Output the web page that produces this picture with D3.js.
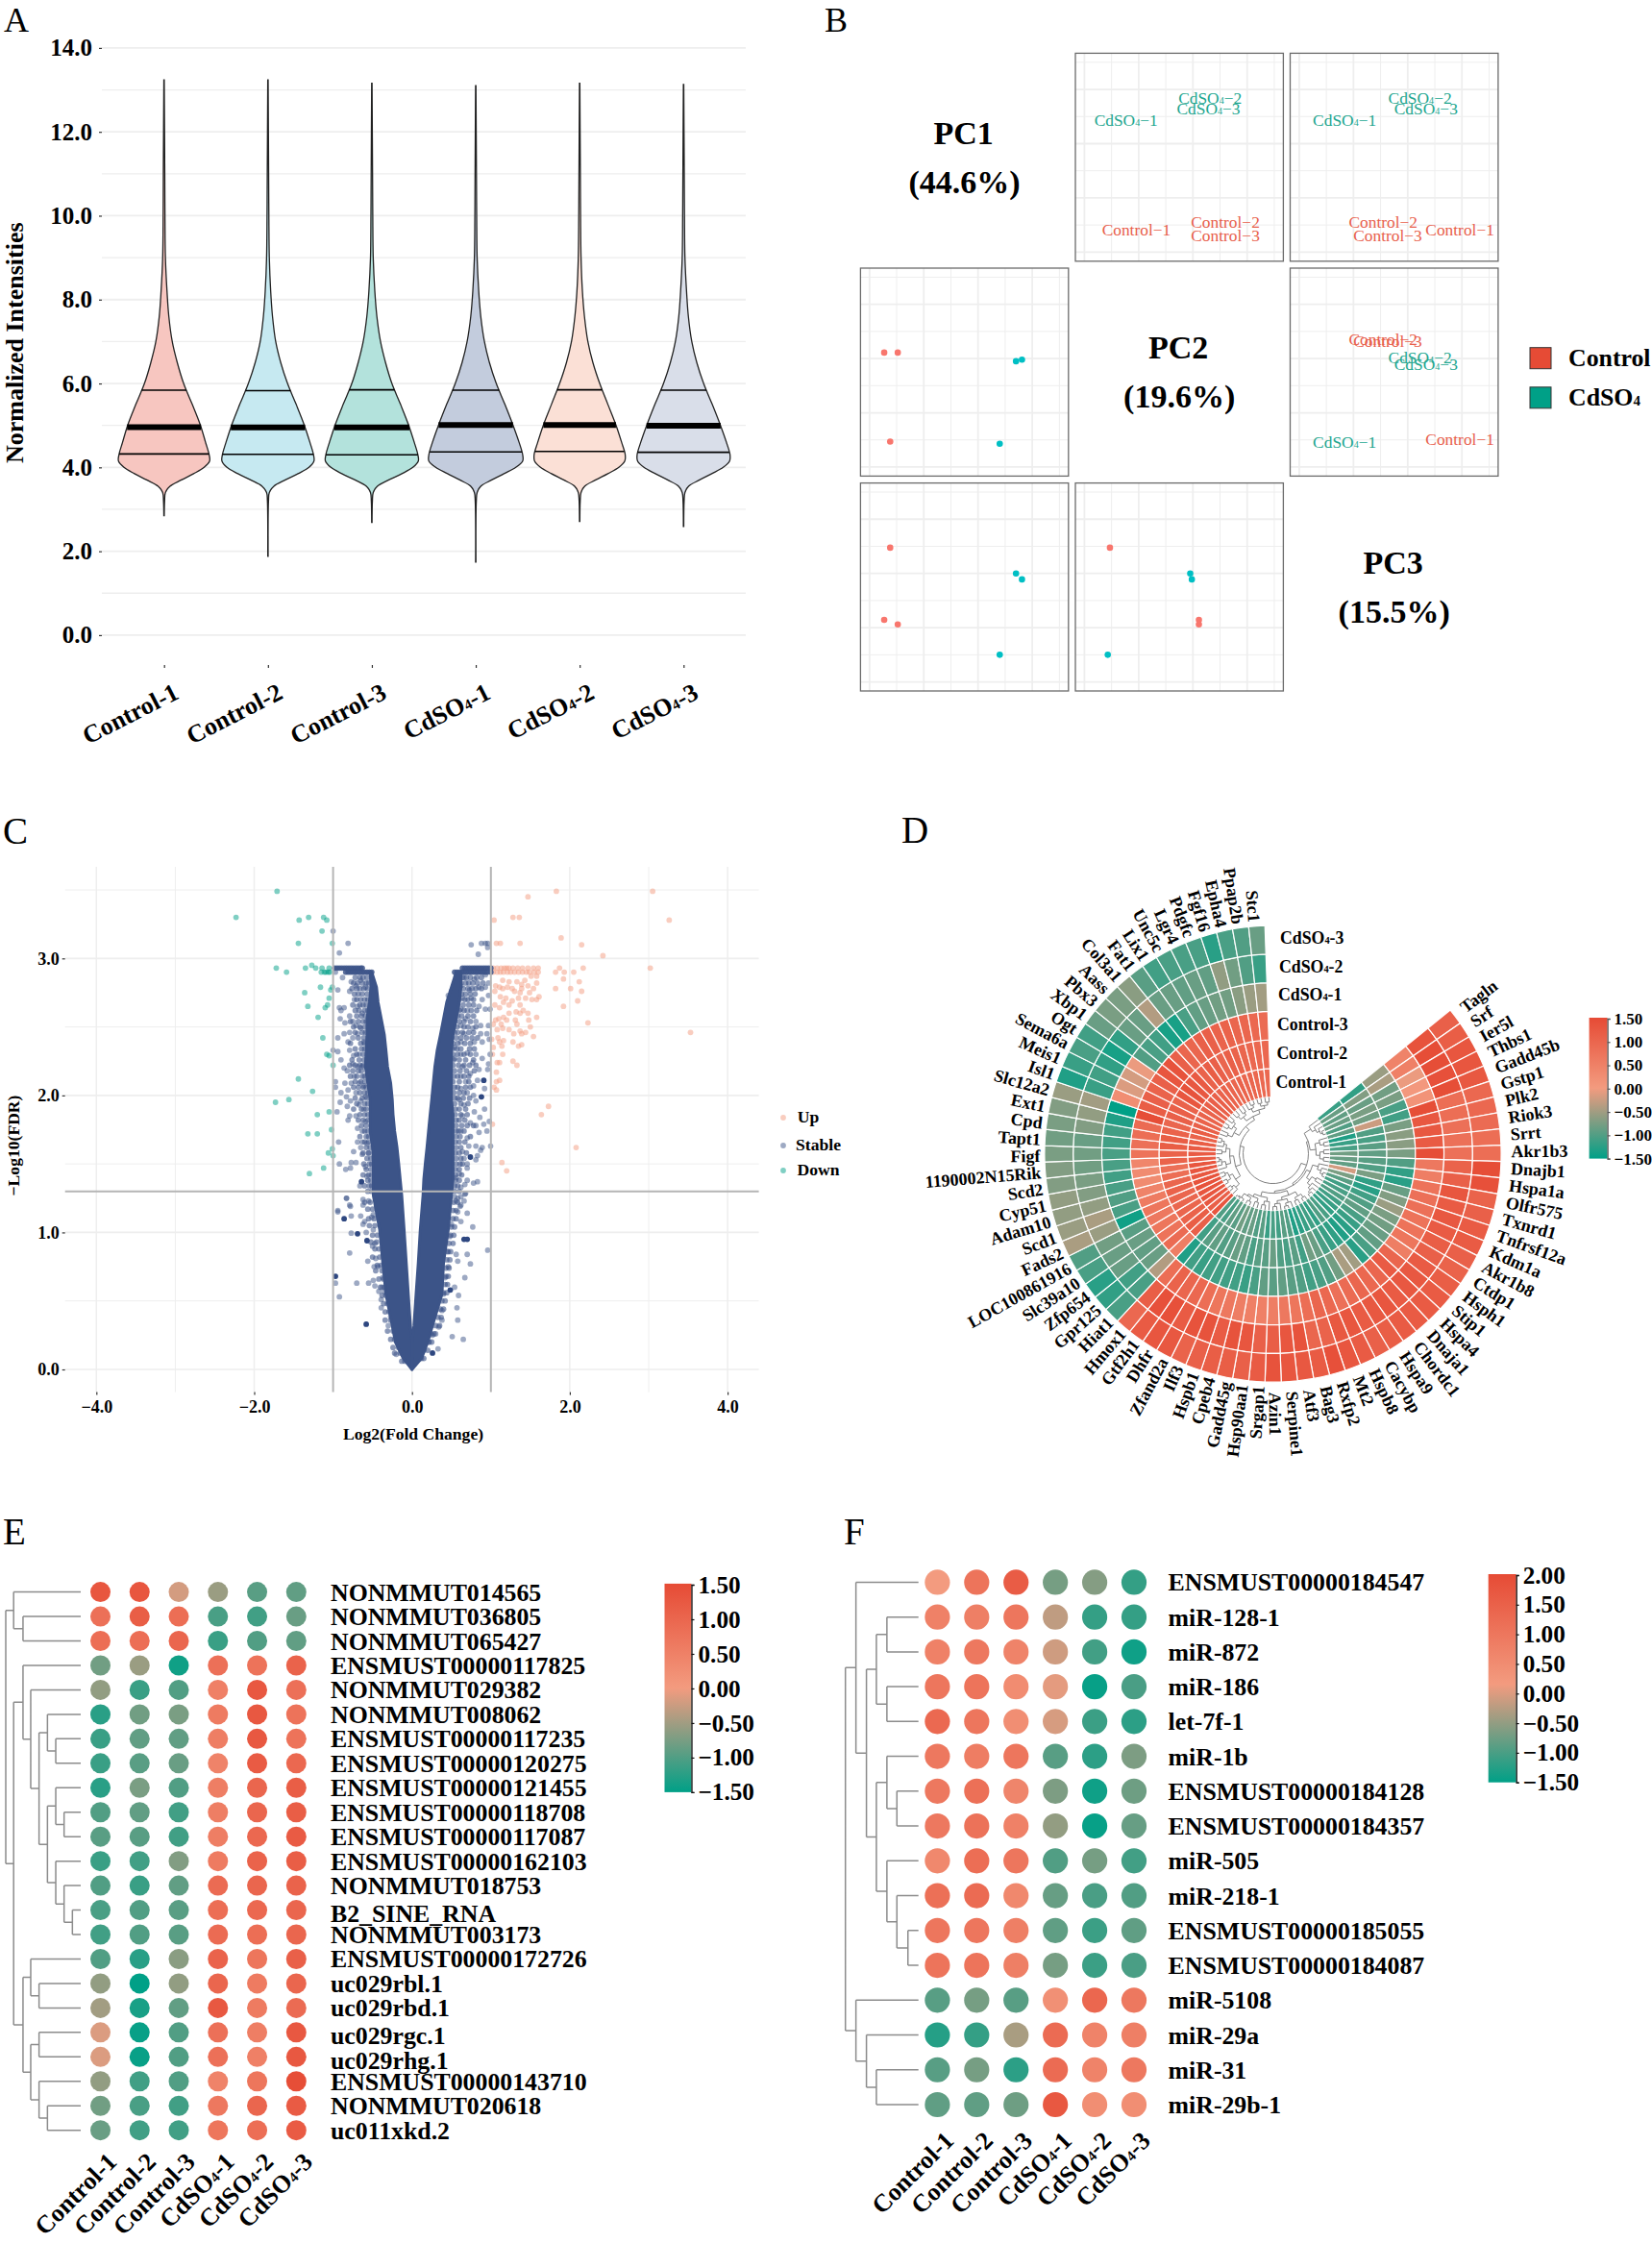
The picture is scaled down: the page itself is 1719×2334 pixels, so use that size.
<!DOCTYPE html>
<html><head><meta charset="utf-8">
<script src="https://d3js.org/d3.v7.min.js"></script>
<style>
html,body{margin:0;padding:0;background:#fff}
svg{display:block}
text{font-family:'Liberation Serif','Times New Roman',serif}
</style></head><body>
<svg id="fig" width="1719" height="2334" viewBox="0 0 1719 2334"></svg>
<script>
// ---------- shared ----------
const sampleNames=["Control-1","Control-2","Control-3","CdSO4-1","CdSO4-2","CdSO4-3"];

// ---------- panel A: violins ----------
const violinLevels=[3.2,3.4,3.55,3.7,3.85,4.0,4.15,4.3,4.6,5,5.5,6,6.5,7,7.6,8.2,9,10,11];
const violinDensity=[
 [.012,.03,.13,.38,.65,.88,1.00,.99,.91,.80,.62,.43,.29,.18,.105,.065,.03,.02,.016],
 [.012,.03,.13,.38,.66,.90,1.01,1.00,.92,.80,.62,.43,.28,.17,.10,.06,.03,.02,.015],
 [.012,.03,.12,.37,.66,.90,1.02,1.01,.93,.81,.63,.44,.30,.19,.11,.065,.03,.02,.015],
 [.012,.03,.11,.35,.62,.88,1.03,1.03,.95,.82,.64,.45,.30,.19,.11,.065,.03,.02,.015],
 [.012,.03,.11,.35,.62,.86,.99,1.00,.92,.80,.62,.44,.29,.18,.105,.06,.03,.02,.015],
 [.012,.03,.11,.35,.62,.87,1.01,1.02,.94,.81,.63,.44,.29,.18,.105,.065,.03,.02,.015]];
const violinMin=[2.85,1.88,2.69,1.74,2.71,2.59];
const violinMax=[13.24,13.24,13.16,13.10,13.16,13.13];
const violinQ1=[4.32,4.31,4.30,4.37,4.38,4.36];
const violinMedian=[4.96,4.95,4.95,5.01,5.01,4.99];
const violinQ3=[5.84,5.83,5.85,5.84,5.85,5.84];
const violinColors=["#F7C6C0","#C6E9F1","#B3E2DC","#C3CCDD","#FBE0D6","#D9DEE9"];

// ---------- panel B: PCA ----------
const pcaSamples=["Control-1","Control-2","Control-3","CdSO4-1","CdSO4-2","CdSO4-3"];
const pc1Scores=[-1.62,-1.48,-1.73,0.40,0.81,0.70];
const pc2Scores=[-1.53,0.11,0.11,-1.57,-0.02,-0.05];
const pc3Scores=[0.475,-0.94,-0.856,-1.50,-0.11,0.0];
const pcNames=["PC1","PC2","PC3"];
const pcVariance=["(44.6%)","(19.6%)","(15.5%)"];

// ---------- panel C: volcano ----------
const volcanoLevels=[2.90,2.79,2.68,2.56,2.44,2.33,2.21,2.09,1.97,1.86,1.74,1.62,1.51,1.39,1.27,1.02,0.78,0.55,0.32,0.20,0.08,0.00];
const bandLeftInner=[-.51,-.45,-.43,-.39,-.35,-.33,-.31,-.27,-.25,-.24,-.22,-.19,-.17,-.15,-.13,-.10,-.073,-.047,-.02,0,0,0];
const bandLeftOuter=[-.53,-.52,-.54,-.57,-.57,-.58,-.59,-.56,-.53,-.53,-.53,-.50,-.49,-.49,-.49,-.41,-.37,-.33,-.25,-.21,-.11,0];
const bandRightInner=[.56,.50,.44,.40,.36,.32,.29,.27,.25,.23,.21,.19,.17,.15,.14,.105,.08,.052,.025,0,0,0];
const bandRightOuter=[.62,.62,.60,.56,.52,.50,.50,.50,.50,.52,.52,.52,.52,.52,.50,.46,.40,.38,.26,.20,.12,0];
const stableTopLeftA=[-.98,-.95,-.92,-.89,-.86,-.83,-.80,-.77,-.74,-.71,-.68,-.65,-.63];
const stableTopLeftB=[-.84,-.81,-.78,-.75,-.72,-.69,-.66,-.63,-.60,-.57,-.54,-.51];
const stableTopRightA=[.64,.67,.70,.73,.76,.79,.82,.85,.88,.91,.94,.97,1.0];
const stableTopRightB=[.54,.57,.60,.63,.66,.69,.72,.75,.78,.81,.84,.87,.90,.93,.96,1.0];
const downPoints=[[-1.71,3.49],[-2.23,3.30],[-1.43,3.28],[-1.31,3.30],[-1.12,3.30],[-1.08,3.28],[-1.14,3.20],[-1.44,3.11],[-1.01,3.11],[-1.72,2.93],[-1.59,2.90],[-1.35,2.93],[-1.27,2.95],[-1.22,2.93],[-1.14,2.93],[-1.05,2.93],[-1.15,2.90],[-1.11,2.90],[-1.09,2.90],[-1.06,2.90],[-1.04,2.90],[-1.16,2.79],[-1.01,2.79],[-1.03,2.77],[-1.36,2.75],[-1.05,2.71],[-1.32,2.65],[-1.07,2.66],[-1.10,2.64],[-1.19,2.57],[-1.13,2.42],[-1.08,2.30],[-1.05,2.29],[-1.0,2.22],[-1.44,2.12],[-1.26,2.03],[-1.56,1.97],[-1.73,1.95],[-1.20,1.86],[-1.05,1.88],[-1.32,1.72],[-1.20,1.72],[-1.02,1.75],[-1.01,1.61],[-1.06,1.58],[-1.0,1.56],[-1.12,1.47],[-1.30,1.43]];
const upPoints=[[1.83,3.49],[3.05,3.49],[1.47,3.45],[3.26,3.28],[1.04,3.28],[1.28,3.30],[1.36,3.30],[1.89,3.15],[2.15,3.10],[1.07,3.11],[1.12,3.11],[1.37,3.11],[2.42,3.02],[3.02,2.93],[1.87,2.93],[2.17,2.93],[1.82,2.90],[1.93,2.90],[2.05,2.90],[1.92,2.85],[2.12,2.83],[1.82,2.78],[2.01,2.78],[2.15,2.76],[2.10,2.69],[1.92,2.65],[2.23,2.53],[3.53,2.46],
[1.03,2.93],[1.08,2.93],[1.13,2.93],[1.17,2.93],[1.20,2.93],[1.23,2.93],[1.28,2.93],[1.34,2.93],[1.40,2.93],[1.47,2.93],[1.54,2.93],[1.60,2.93],
[1.03,2.90],[1.08,2.90],[1.12,2.90],[1.16,2.90],[1.21,2.90],[1.25,2.90],[1.30,2.90],[1.35,2.90],[1.40,2.90],[1.45,2.90],[1.49,2.90],[1.55,2.90],[1.60,2.90],
[1.51,2.87],[1.58,2.87],[1.43,2.84],[1.58,2.82],[1.15,2.84],[1.23,2.83],[1.33,2.83],[1.39,2.81],[1.06,2.80],[1.11,2.79],[1.15,2.78],[1.21,2.79],[1.27,2.78],[1.39,2.78],[1.47,2.80],[1.54,2.78],[1.05,2.76],[1.30,2.76],[1.37,2.75],[1.49,2.75],[1.12,2.72],[1.19,2.71],[1.35,2.71],[1.44,2.71],[1.52,2.70],[1.61,2.72],[1.58,2.70],[1.27,2.69],[1.16,2.68],[1.05,2.66],[1.23,2.66],[1.37,2.66],[1.11,2.64],[1.32,2.61],[1.41,2.62],[1.47,2.60],[1.23,2.60],[1.37,2.60],[1.58,2.57],[1.16,2.57],[1.10,2.56],[1.20,2.55],[1.31,2.55],[1.48,2.55],[1.06,2.55],[1.03,2.52],[1.33,2.52],[1.13,2.52],[1.50,2.50],[1.08,2.48],[1.15,2.49],[1.23,2.48],[1.37,2.47],[1.44,2.46],[1.29,2.45],[1.39,2.45],[1.54,2.43],[1.01,2.41],[1.09,2.42],[1.11,2.39],[1.16,2.40],[1.28,2.39],[1.39,2.37],[1.35,2.36],[1.14,2.36],[1.03,2.35],[1.15,2.30],[1.02,2.30],[1.08,2.24],[1.11,2.24],[1.28,2.25],[1.33,2.22],[1.07,2.17],[1.11,2.11],[1.07,2.10],[1.04,2.06],[1.07,2.04],[1.73,1.92],[1.64,1.86],[1.02,1.79],[2.08,1.62],[1.14,1.51],[1.20,1.45]];
const stablePoints=[[-1.0,3.20],[-.81,3.11],[-.92,3.04],[-.97,2.90],[-.88,2.86],[-.94,2.77],[-.92,2.64],[-.90,2.62],[-.86,2.64],[-.79,2.76],[-.73,2.70],[-.79,2.58],[-.91,2.56],[-.85,2.53],[-.75,2.54],[-.86,2.45],[-.79,2.46],[-.69,2.45],[-.94,2.42],[-.75,2.42],[-.81,2.39],[-1.0,2.33],[-.94,2.32],[-.79,2.33],[-.74,2.29],[-.90,2.26],[-.86,2.20],[-.82,2.18],[-.97,2.10],[-.97,2.06],[-.85,2.09],[-.77,2.09],[-.81,2.04],[-.90,2.02],[-.83,1.99],[-.78,1.96],[-.71,2.02],[-.59,1.99],[-.65,1.96],[-.91,1.95],[-.82,1.92],[-.95,1.88],[-.79,1.85],[-.81,1.82],[-.71,1.85],[-.93,1.66],[-.69,1.66],[-.63,1.66],[-.65,1.62],[-.74,1.59],[-.63,1.57],[-.71,1.51],[-.77,1.51],[-.92,1.50],[-.78,1.47],[-.84,1.46],[-.59,1.48],[-.66,1.34],[-.83,1.25],[-.79,1.20],[-.94,1.16],
[-.77,2.83],[-.71,2.80],[-.65,2.84],[-.59,2.79],[-.69,2.65],[-.63,2.60],[-.71,2.51],[-.65,2.49],[-.61,2.39],[-.67,2.30],[-.75,2.23],[-.69,2.21],[-.63,2.21],[-.73,2.14],[-.67,2.09],[-.61,2.07],[-.67,1.93],[-.61,1.90],[-.69,1.76],[-.63,1.74],[-.59,1.81],[-.57,1.65],[-.55,1.58],[-.57,1.41],
[.75,3.10],[.88,3.11],[.93,3.11],[.96,3.11],[.96,3.08],[.84,3.03],[.56,2.87],[.66,2.86],[.79,2.85],[.93,2.88],[.97,2.82],[.85,2.79],[.93,2.79],[.73,2.77],[.62,2.80],[.54,2.73],[.50,2.76],[.46,2.73],[.64,2.71],[.75,2.71],[.89,2.70],[.97,2.73],[.85,2.65],[.93,2.63],[.99,2.63],[.54,2.66],[.62,2.63],[.70,2.62],[.46,2.58],[.54,2.58],[.68,2.56],[.81,2.54],[.87,2.51],[.97,2.51],[.62,2.51],[.77,2.49],[.87,2.45],[.95,2.45],[.54,2.46],[.66,2.45],[.62,2.39],[.79,2.39],[.89,2.39],[.98,2.41],[.54,2.35],[.70,2.31],[.81,2.30],[.89,2.27],[.99,2.30],[.62,2.30],[.54,2.27],[.77,2.24],[.97,2.23],[.85,2.19],[.64,2.21],[.96,2.19],[.74,2.16],[.62,2.14],[.83,2.11],[.68,2.10],[.78,2.07],[.92,2.05],[.62,2.05],[.70,2.02],[.78,2.0],[.81,1.96],[.60,1.97],[.92,1.90],[.66,1.93],[.79,1.88],[.86,1.84],[.64,1.85],[.74,1.80],[.98,1.81],[.91,1.79],[.81,1.78],[.95,1.74],[.85,1.73],[.62,1.74],[.70,1.69],[.89,1.62],[.996,1.63],[.81,1.63],[.72,1.63],[.64,1.59],[.87,1.60],[.83,1.56],[.66,1.54],[.81,1.53],[.70,1.50],[.70,1.47],[.60,1.43],[.56,1.40],[.83,1.37],[.78,1.36],[.70,1.38],[.67,1.35],[.62,1.33],[.67,1.28],[.58,1.25],[.62,1.20],
[-.83,1.25],[-.78,1.19],[-.94,1.15],[-.77,1.12],[-.65,1.12],[-.62,1.20],[-.62,1.24],[-.62,1.06],[-.60,1.08],[-.77,.995],[-.58,1.0],[-.79,.85],[-.56,.79],[-.97,.63],[-.70,.63],[-.55,.63],[-.49,.65],[-.47,.61],[-.92,.53],[-.42,.57],[-.38,.60],[-.39,.51],[-.39,.45],[-.30,.32],[-.27,.385],[-.20,.11],[-.51,1.11],[-.49,1.02],[-.47,.92],[-.50,.90],[-.46,.81],[-.48,.75],[-.43,.75],[-.37,.67],[-.35,.57],[-.49,1.13],[-.55,1.23],
[.54,.60],[.59,.54],[.57,.45],[.58,.36],[.51,.24],[.65,.22],[.33,.15],[.67,.67],[.74,.77],[.58,.79],[.56,.84],[.70,.84],[.96,.87],[.77,1.04],[.62,1.08],[.70,1.14],[.58,1.15],[.61,1.19],[.66,1.23],[.56,1.23],[.68,1.285],[.62,1.26],[.48,.97],[.46,.86],[.46,.75],[.42,.67],[.40,.55],[.38,.43],[.38,.36],[.34,.31],[.30,.26],[.26,.25],[.22,.20],[.54,1.26],[.50,1.06]];
// dense fringe beside the solid band, read row by row: [FDR level, log2FC values]
const stableFringeLeft=[[2.86,[-.72,-.66,-.62,-.57]],[2.82,[-.74,-.69,-.63,-.58,-.55]],[2.78,[-.76,-.70,-.66,-.61,-.56]],[2.74,[-.73,-.68,-.63,-.57]],[2.70,[-.70,-.65,-.60,-.56]],[2.66,[-.75,-.66,-.62,-.58]],[2.62,[-.72,-.67,-.60,-.56]],[2.58,[-.70,-.64,-.59]],[2.54,[-.78,-.68,-.62,-.58]],[2.50,[-.74,-.66,-.60]],[2.46,[-.72,-.63,-.59]],[2.42,[-.68,-.61]],[2.38,[-.78,-.65,-.60]],[2.34,[-.72,-.64,-.60]],[2.30,[-.70,-.62]],[2.26,[-.76,-.67,-.61]],[2.22,[-.79,-.72,-.66,-.62]],[2.18,[-.75,-.68,-.64]],[2.14,[-.78,-.70,-.63,-.60]],[2.10,[-.72,-.65,-.60]],[2.06,[-.74,-.68,-.62,-.58]],[2.02,[-.66,-.60,-.56]],[1.98,[-.72,-.63,-.57]],[1.94,[-.70,-.60,-.56]],[1.90,[-.74,-.64,-.58]],[1.86,[-.66,-.60,-.56]],[1.82,[-.68,-.62,-.56]],[1.78,[-.64,-.58]],[1.74,[-.60,-.56]],[1.70,[-.66,-.58,-.55]],[1.66,[-.60,-.55]],[1.62,[-.58,-.53]],[1.58,[-.62,-.55]],[1.54,[-.57,-.52]],[1.50,[-.61,-.54,-.51]],[1.46,[-.58,-.52]],[1.42,[-.62,-.55,-.51]],[1.38,[-.56,-.52]],[1.34,[-.60,-.54,-.51]],[1.30,[-.56,-.51]],[1.22,[-.60,-.53]],[1.17,[-.56,-.50]],[1.10,[-.55,-.48]],[1.05,[-.54,-.47]],[.98,[-.50,-.44]],[.93,[-.52,-.45]],[.88,[-.47,-.42]],[.82,[-.50,-.41]],[.76,[-.44,-.39]],[.72,[-.46,-.38]],[.66,[-.42,-.36]],[.60,[-.40,-.35]],[.54,[-.38,-.33]],[.48,[-.36,-.31]],[.42,[-.34,-.29]],[.36,[-.34,-.27]],[.28,[-.31,-.24]],[.22,[-.27,-.22]],[.16,[-.24,-.17]],[.12,[-.22,-.15]],[.06,[-.13,-.09]]];
const stableFringeRight=[[2.86,[.60,.64,.69,.74,.82,.88]],[2.82,[.58,.62,.68,.72,.77,.83,.90]],[2.78,[.55,.60,.65,.71,.76,.81,.88]],[2.74,[.53,.58,.63,.68,.74,.80]],[2.70,[.50,.56,.60,.67,.71,.78]],[2.66,[.52,.58,.65,.72,.78]],[2.62,[.50,.56,.60,.66,.75,.82]],[2.58,[.50,.58,.63,.71,.78]],[2.54,[.48,.54,.60,.66,.74]],[2.50,[.52,.57,.66,.71,.81]],[2.46,[.50,.58,.64,.72,.78]],[2.42,[.50,.56,.62,.69,.76,.83]],[2.38,[.52,.58,.67,.74]],[2.34,[.51,.57,.62,.73,.79]],[2.30,[.52,.58,.66,.74]],[2.26,[.53,.60,.68,.78]],[2.22,[.52,.59,.66,.73,.81]],[2.18,[.54,.61,.69,.79]],[2.14,[.53,.58,.66,.72]],[2.10,[.52,.60,.72]],[2.06,[.54,.58,.68,.74]],[2.02,[.53,.60,.66]],[1.98,[.54,.58,.65,.73]],[1.94,[.54,.62,.71]],[1.90,[.55,.60,.68]],[1.86,[.55,.62,.70]],[1.82,[.56,.60,.67]],[1.78,[.56,.63,.70,.78]],[1.74,[.56,.59,.66]],[1.70,[.56,.61,.74]],[1.66,[.55,.60,.67]],[1.62,[.56,.62]],[1.58,[.55,.60,.69]],[1.54,[.56,.62]],[1.50,[.56,.61,.64]],[1.46,[.55,.60]],[1.42,[.55,.63]],[1.38,[.55,.60]],[1.34,[.54,.58]],[1.30,[.54,.60]],[1.22,[.53,.58]],[1.16,[.52,.56]],[1.10,[.52,.56]],[1.04,[.50,.54]],[.98,[.49,.53]],[.92,[.47,.52]],[.86,[.45,.49]],[.80,[.44,.48]],[.74,[.43,.47]],[.68,[.43,.46]],[.62,[.42,.45]],[.56,[.40,.44]],[.50,[.38,.42]],[.44,[.36,.40]],[.38,[.33,.37]],[.32,[.30,.35]],[.26,[.24,.28]],[.20,[.21,.25]],[.14,[.15,.20]],[.08,[.12,.15]]];
const stableDarkPoints=[[-.64,1.37],[.91,2.11],[.88,1.99],[.74,1.55],[-.86,1.10],[-.69,.99],[-.57,.94],[-.97,.68],[-.58,.33],[.485,.58],[.26,.12],[.70,.95],[.66,.95]];
const volcanoLegend=["Up","Stable","Down"];

// ---------- panel D: circular heatmap ----------
const circularGenes=["Tagln","Srf","Ier5l","Thbs1","Gadd45b","Gstp1","Plk2","Riok3","Srrt","Akr1b3","Dnajb1","Hspa1a","Olfr575","Txnrd1","Tnfrsf12a","Kdm1a","Akr1b8","Ctdp1","Hsph1","Stip1","Hspa4","Dnaja1","Chordc1","Hspa9","Cacybp","Hspb8","Mt2","Rxfp2","Bag3","Atf3","Serpine1","Azin1","Srgap1","Hsp90aa1","Gadd45g","Cpeb4","Hspb1","Ilf3","Zfand2a","Dhfr","Gtf2h1","Hmox1","Hiat1","Gpr125","Zfp654","Slc39a10","LOC100861916","Fads2","Scd1","Adam10","Cyp51","Scd2","1190002N15Rik","Figf","Tapt1","Cpd","Ext1","Slc12a2","Isl1","Meis1","Sema6a","Ogt","Xbp1","Pbx3","Aass","Col3a1","Fat1","Lix1","Unc5c","Lgr4","Pdgfc","Fgf16","Epha4","Ppap2b","Stc1"];
const ringControl1=[-1.15,-0.85,-0.9,-0.85,-1.0,-0.9,-1.3,-1.15,-1.05,-0.8,-0.85,-0.9,-0.2,-0.75,-0.95,-1.1,-1.05,-1.0,-1.1,-1.15,-1.2,-1.05,-1.0,-1.2,-1.1,-1.15,-1.25,-1.3,-1.0,-0.95,-1.1,-1.05,-1.15,-0.95,-1.0,-0.85,-0.9,-0.8,-0.95,-0.9,-1.05,-1.0,
 1.3,1.1,1.25,1.3,1.3,1.35,1.35,1.25,1.3,1.3,1.15,1.2,1.2,1.15,1.05,1.15,1.1,1.05,1.05,1.05,1.1,1.1,1.1,1.05,1.05,1.0,1.0,1.05,1.0,1.0,.95,.95,.95];
const ringControl2=[-1.2,-0.7,-0.85,-0.75,-0.8,-0.25,-1.0,-1.05,-0.95,-0.9,-0.95,-1.0,-0.75,-1.2,-1.25,-1.1,-1.0,-0.9,-1.05,-1.15,-1.25,-1.3,-1.2,-1.15,-1.05,-0.85,-0.8,-1.1,-0.95,-1.05,-1.0,-0.85,-0.95,-0.95,-1.05,-0.9,-0.85,-0.95,-1.0,-0.9,-0.95,-1.1,
 1.1,1.15,1.05,1.0,1.0,1.0,1.05,1.0,.85,.8,1.05,1.05,1.15,1.15,1.05,1.0,1.1,1.1,1.05,1.3,1.35,1.25,1.2,1.05,1.15,1.1,1.0,1.1,1.05,1.0,.95,.95,.95];
const ringControl3=[-0.55,-0.45,-0.8,-0.75,-1.05,-1.1,-0.75,-0.65,-0.65,-0.75,-1.0,-1.2,-1.25,-0.85,-0.7,-0.55,-0.75,-0.8,-0.85,-0.9,-1.05,-1.25,-0.5,-0.45,-0.8,-1.0,-1.05,-1.1,-1.0,-0.95,-0.9,-0.95,-0.9,-1.05,-1.15,-1.1,-1.1,-1.1,-1.1,-1.15,-1.1,-1.3,
 .55,.9,.75,.7,.65,.7,.6,.45,.3,.3,.4,.75,.8,.85,.9,1.45,1.15,1.1,1.05,1.1,1.3,1.35,1.1,1.0,1.0,1.1,1.1,1.05,1.05,1.0,1.0,.95,.9];
const ringCd1=[.45,.5,-.05,.05,.15,1.45,1.25,1.25,1.2,1.45,.65,.55,.75,.8,.8,.75,.75,.7,.55,1.0,1.2,1.0,.95,1.0,.9,.8,.95,1.0,.85,.7,.65,.55,.5,.5,.55,.65,.7,.85,.95,1.0,1.05,.85,
 -.4,-.85,-.9,-.85,-.95,-1.4,-1.05,-1.0,-1.05,-1.1,-1.05,-1.05,-1.1,-1.1,-1.3,-1.5,.25,-.15,-.2,-.05,-1.0,-1.05,-1.1,-1.35,-1.35,-1.05,-.9,-.85,-.8,-.8,-.65,-.55,-.5];
const ringCd2=[1.35,1.45,1.45,1.4,1.45,.85,.85,.8,.8,.8,1.05,1.1,1.3,1.2,1.25,1.2,1.15,1.1,1.2,1.25,1.25,1.2,1.3,1.25,1.2,1.3,1.25,1.05,1.0,1.35,1.3,1.15,1.1,1.3,1.35,1.2,1.35,1.35,1.2,1.4,1.4,1.15,
 -1.05,-1.1,-.85,-.85,-.8,-.55,-.45,-.6,-.7,-.75,-.8,-.8,-.85,-.7,-.6,-.5,-1.15,-1.1,-1.2,-1.35,-1.2,-.85,-.85,-.4,-.85,-.85,-.9,-.85,-.9,-.6,-.8,-1.0,-1.15];
const ringCd3=[1.1,1.15,1.3,1.3,1.25,.95,.95,.9,.85,.85,1.45,1.4,1.05,1.1,1.2,1.2,1.1,1.05,1.15,1.2,1.2,1.2,1.2,1.15,1.1,1.2,1.3,1.4,1.2,1.25,1.3,1.35,1.2,1.1,1.15,1.15,1.1,1.05,1.25,1.3,1.2,.95,
 -1.05,-1.2,-1.25,-1.05,-1.0,-.45,-.55,-.6,-.6,-.7,-.7,-.75,-.8,-.75,-.7,-.55,-1.3,-1.15,-1.05,-1.1,-.85,-.75,-.75,-.65,-.95,-1.1,-1.05,-1.05,-1.05,-1.25,-1.05,-1.0,-.85];
const circularRings=[ringControl1,ringControl2,ringControl3,ringCd1,ringCd2,ringCd3];
const circularTree=[28,
 [22,
  [20,[12,0,[8,0,[5,0,[3,0,0]]]],[14,[9,0,[5,0,0]],[10,[6,0,0],[6,0,0]]]],
  [20,[16,[10,0,[6,0,[3,0,0]]],[12,[7,0,0],[8,0,[5,0,[3,0,0]]]]],
      [18,[13,[8,[4,0,0],[5,0,0]],[10,[6,0,[3,0,0]],[7,0,[4,0,0]]]],
          [13,[9,0,[5,0,0]],[10,[6,0,0],[8,[4,0,0],[3,0,[2,0,0]]]]]]]],
 [24,
  [18,[12,[7,0,[4,0,0]],[8,[4,0,0],[5,0,0]]],[14,[9,0,[5,0,[3,0,0]]],[10,[6,0,0],[7,0,[4,0,0]]]]],
  [19,[13,[8,0,0],[9,[5,0,0],[6,0,0]]],[15,[10,[6,0,0],[7,0,0]],[11,[7,0,[4,0,0]],[8,[5,0,0],[5,0,0]]]]]]];

// ---------- panel E ----------
const lncNames=["NONMMUT014565","NONMMUT036805","NONMMUT065427","ENSMUST00000117825","NONMMUT029382","NONMMUT008062","ENSMUST00000117235","ENSMUST00000120275","ENSMUST00000121455","ENSMUST00000118708","ENSMUST00000117087","ENSMUST00000162103","NONMMUT018753","B2_SINE_RNA","NONMMUT003173","ENSMUST00000172726","uc029rbl.1","uc029rbd.1","uc029rgc.1","uc029rhg.1","ENSMUST00000143710","NONMMUT020618","uc011xkd.2"];
const lncValues=[[1.3,1.3,-.2,-.55,-.95,-.9],[.8,1.15,.85,-1.05,-1.1,-.85],[.85,.85,1.0,-1.15,-1.0,-.9],[-.8,-.55,-1.4,.8,.75,1.05],[-.6,-1.15,-1.0,.5,1.25,.8],[-1.25,-.8,-.75,.6,1.25,.75],[-1.15,-.9,-.9,.55,1.25,.75],[-1.15,-.95,-.85,.45,1.2,.95],[-1.25,-.75,-1.0,.55,1.0,1.15],[-1.0,-.9,-1.1,.55,1.0,1.15],[-.95,-.95,-1.1,.55,.95,1.2],[-1.15,-1.1,-.7,.6,1.05,1.15],[-1.0,-1.15,-.9,.9,1.0,1.05],[-1.05,-1.0,-.95,.85,.95,1.0],[-1.1,-1.0,-.95,.9,.85,1.0],[-1.0,-1.25,-.65,1.05,.7,1.1],[-.6,-1.5,-.6,1.0,.6,1.0],[-.5,-1.35,-.9,1.25,.6,.9],[-.15,-1.45,-1.0,.8,.55,1.25],[-.15,-1.45,-1.0,.8,.5,1.25],[-.6,-1.1,-1.0,.45,.7,1.45],[-.8,-1.05,-1.1,.65,1.0,1.2],[-.85,-1.1,-1.1,.7,.85,1.2]];
const lncTree=[1,[.895,0,[.77,0,0]],[.895,[.77,0,[.667,0,[.556,[.444,0,[.333,0,0]],[.444,[.333,0,[.222,0,0]],[.333,0,[.222,0,[.111,0,0]]]]]]],[.77,[.667,0,[.556,0,0]],[.667,[.556,0,0],[.556,0,[.444,0,0]]]]]];
const lncTicks=[1.5,1,.5,0,-.5,-1,-1.5];

// ---------- panel F ----------
const mirNames=["ENSMUST00000184547","miR-128-1","miR-872","miR-186","let-7f-1","miR-1b","ENSMUST00000184128","ENSMUST00000184357","miR-505","miR-218-1","ENSMUST00000185055","ENSMUST00000184087","miR-5108","miR-29a","miR-31","miR-29b-1"];
const mirValues=[[.15,1.05,1.6,-.7,-.6,-1.15],[.75,.8,1.0,-.2,-1.15,-1.15],[.75,.95,.7,-.1,-1.05,-1.4],[1.0,1.05,.5,.05,-1.45,-1.0],[1.3,1.0,.45,-.05,-1.1,-1.2],[.95,.85,1.0,-.9,-1.2,-.65],[.95,1.15,.65,-.65,-1.4,-.75],[.95,1.1,.75,-.5,-1.45,-.8],[.6,1.2,1.0,-.95,-.7,-1.05],[1.15,1.25,.6,-.8,-1.0,-.95],[1.0,1.0,.8,-.85,-1.1,-.85],[1.05,1.05,.8,-.7,-1.1,-1.0],[-.9,-.7,-.9,.4,1.35,.95],[-1.25,-1.15,-.35,1.25,.7,.8],[-.9,-.7,-1.2,1.25,.7,.95],[-.85,-.85,-.75,1.7,.45,.45]];
const mirTree=[1,[.856,0,[.712,[.576,[.432,0,0],[.432,0,0]],[.576,[.432,0,[.295,0,0]],[.432,0,[.295,0,[.144,0,0]]]]]],[.856,0,[.712,0,[.576,0,0]]]];
const mirTicks=[2,1.5,1,.5,0,-.5,-1,-1.5];

// ---------- helpers ----------
const svg=d3.select("#fig");
svg.append("rect").attr("width",1719).attr("height",2334).attr("fill","#fff");
const GRID="#eeeeee", INK="#000";
function rich(sel,str){ // real text with a small "4" in CdSO4
  const m=str.match(/^(CdSO)(4)(.*)$/);
  if(!m){sel.text(str);return sel;}
  sel.append("tspan").text(m[1]);
  sel.append("tspan").attr("font-size","0.58em").text(m[2]);
  if(m[3])sel.append("tspan").text(m[3]);
  return sel;
}
function label(g,x,y,str,o={}){
  const t=g.append("text").attr("x",x).attr("y",y)
    .attr("font-size",o.size||25).attr("font-weight",o.weight||"bold")
    .attr("fill",o.fill||INK).attr("text-anchor",o.anchor||"start");
  if(o.rotate!==undefined)t.attr("transform",`rotate(${o.rotate},${x},${y})`);
  return rich(t,str);
}
function styleAxis(g,size,color){
  g.select(".domain").remove();
  g.selectAll("text").attr("font-size",size).attr("font-weight","bold")
   .attr("font-family","'Liberation Serif',serif").attr("fill",color||INK);
  g.selectAll(".tick line").attr("stroke","#333").attr("stroke-width",1.2);
}
[["A",4,33,36],["B",858,33,36],["C",3,878,39],["D",938,877,39],["E",3,1607,39],["F",878,1607,39]].forEach(p=>
  label(svg,p[1],p[2],p[0],{size:p[3],weight:"normal"}));

// ---------- draw A ----------
(function(){
  const g=svg.append("g");
  const y=d3.scaleLinear([0,14],[660.9,49.9]);
  const x=d3.scalePoint(sampleNames,[170.7,711.3]);
  const w=d3.scaleLinear([0,1],[0,47.4]);
  d3.range(0,15).forEach(v=>g.append("line").attr("x1",106).attr("x2",776).attr("y1",y(v)).attr("y2",y(v))
    .attr("stroke",GRID).attr("stroke-width",v%2?1.3:1.8));
  const ya=g.append("g").attr("transform","translate(106,0)")
    .call(d3.axisLeft(y).tickValues(d3.range(0,15,2)).tickFormat(d3.format(".1f")).tickSize(3).tickPadding(7));
  styleAxis(ya,25);
  const xa=g.append("g").attr("transform","translate(0,692)").call(d3.axisBottom(x).tickSize(3).tickFormat(""));
  styleAxis(xa,25);
  sampleNames.forEach((s,i)=>label(g,x(s)+17,726,s,{size:26,anchor:"end",rotate:-27}));
  label(g,24,356.7,"Normalized Intensities",{size:26,anchor:"middle",rotate:-90});
  sampleNames.forEach((s,i)=>{
    const pts=[[violinMin[i],.004]].concat(violinLevels.map((v,k)=>[v,violinDensity[i][k]]),[[violinMax[i],.004]]);
    const area=d3.area().curve(d3.curveCatmullRom.alpha(.5))
      .y(d=>y(d[0])).x0(d=>x(s)-w(d[1])).x1(d=>x(s)+w(d[1]));
    g.append("path").attr("d",area(pts)).attr("fill",violinColors[i]).attr("stroke","#222").attr("stroke-width",1.3);
    const look=d3.scaleLinear(pts.map(d=>d[0]),pts.map(d=>d[1]));
    [[violinQ1[i],1.6],[violinMedian[i],6],[violinQ3[i],1.6]].forEach(q=>{
      const hw=w(look(q[0]));
      g.append("line").attr("x1",x(s)-hw).attr("x2",x(s)+hw).attr("y1",y(q[0])).attr("y2",y(q[0]))
       .attr("stroke","#000").attr("stroke-width",q[1]);
    });
  });
})();

// ---------- draw B ----------
(function(){
  const g=svg.append("g");
  const colX=[895.4,1119,1342.5], rowY=[55.4,279,502.6], S=216.4;
  const scores=[pc1Scores,pc2Scores,pc3Scores];
  const dom=[-2.167,1.667], breaks=[-2,-1.5,-1,-.5,0,.5,1,1.5];
  const red="#F8766D", teal="#00BFC4", redT="#E8604C", tealT="#22A68F";
  const nudges={"0-1":{5:5.7},"0-2":{5:5.7},"1-2":{1:-12,2:-9.6,5:5.3}};
  for(let r=0;r<3;r++)for(let c=0;c<3;c++){
    const x0=colX[c],y0=rowY[r];
    if(r===c){
      label(g,x0+S/2-1,y0+S/2-14,pcNames[r],{size:34,anchor:"middle"});
      label(g,x0+S/2,y0+S/2+37,pcVariance[r],{size:34,anchor:"middle"});
      continue;
    }
    const x=d3.scaleLinear(dom,[x0,x0+S]), y=d3.scaleLinear(dom,[y0+S,y0]);
    breaks.forEach((b,i)=>{
      const wd=i%2?1:1.8;
      g.append("line").attr("x1",x(b)).attr("x2",x(b)).attr("y1",y0).attr("y2",y0+S).attr("stroke",GRID).attr("stroke-width",wd);
      g.append("line").attr("y1",y(b)).attr("y2",y(b)).attr("x1",x0).attr("x2",x0+S).attr("stroke",GRID).attr("stroke-width",wd);
    });
    g.append("rect").attr("x",x0).attr("y",y0).attr("width",S).attr("height",S).attr("fill","none").attr("stroke","#6b6b6b").attr("stroke-width",1.3);
    pcaSamples.forEach((s,i)=>{
      const vx=scores[c][i], vy=scores[r][i], ctrl=i<3;
      if(r>c){
        g.append("circle").attr("cx",x(vx)).attr("cy",y(vy)).attr("r",3.3).attr("fill",ctrl?red:teal);
      }else{
        const n=(nudges[r+"-"+c]||{})[i]||0;
        label(g,x(vx)+(ctrl?27.5:19),y(vy)-1.7+n+5.5,s.replace("-","\u2212"),{size:17.4,weight:"normal",anchor:"middle",fill:ctrl?redT:tealT});
      }
    });
  }
  [["Control","#E64B35",361.7],["CdSO4","#00A087",402.8]].forEach(l=>{
    g.append("rect").attr("x",1592).attr("y",l[2]).attr("width",22).attr("height",22).attr("fill",l[1]).attr("stroke","#333").attr("stroke-width",1);
    label(g,1632,l[2]+19,l[0],{size:25.8});
  });
})();

// ---------- draw C ----------
(function(){
  const g=svg.append("g");
  const x=d3.scaleLinear([-4,4],[100.3,757.1]);
  const y=d3.scaleLinear([0,3],[1425,997.3]);
  const L=67.7,R=789.6,T=902,B=1448.6;
  d3.range(-4,5).forEach(v=>g.append("line").attr("x1",x(v)).attr("x2",x(v)).attr("y1",T).attr("y2",B).attr("stroke",GRID).attr("stroke-width",v%2?1:1.5));
  d3.range(0,4,.5).forEach(v=>g.append("line").attr("x1",L).attr("x2",R).attr("y1",y(v)).attr("y2",y(v)).attr("stroke",GRID).attr("stroke-width",v%1?1:1.7));
  const fmt=d=>d3.format(".1f")(Math.abs(d)).replace(/^/,d<0?"\u2212":"");
  styleAxis(g.append("g").attr("transform",`translate(${L},0)`).call(d3.axisLeft(y).tickValues([0,1,2,3]).tickFormat(fmt).tickSize(3).tickPadding(3)),18);
  styleAxis(g.append("g").attr("transform",`translate(0,${B})`).call(d3.axisBottom(x).tickValues([-4,-2,0,2,4]).tickFormat(fmt).tickSize(3).tickPadding(6)),18);
  label(g,430,1497.6,"Log2(Fold Change)",{size:17.6,anchor:"middle"});
  label(g,20,1192,"\u2212Log10(FDR)",{size:17.6,anchor:"middle",rotate:-90});
  const UP="#F39B7F",ST="#3C5488",DN="#00A087";
  const dots=(arr,col,op)=>g.append("g").selectAll("circle").data(arr).join("circle")
     .attr("cx",d=>x(d[0])).attr("cy",d=>y(d[1])).attr("r",2.9).attr("fill",col).attr("fill-opacity",op);
  dots(upPoints,UP,.5);
  dots(downPoints,DN,.5);
  dots(stablePoints,ST,.5);
  const fringe=rows=>rows.flatMap(r=>r[1].map(v=>[v,r[0]]));
  dots(fringe(stableFringeLeft),ST,.6);
  dots(fringe(stableFringeRight),ST,.6);
  dots(stableTopLeftA.map(v=>[v,2.93]).concat(stableTopLeftB.map(v=>[v,2.90]),stableTopRightA.map(v=>[v,2.93]),stableTopRightB.map(v=>[v,2.90])),ST,.85);
  dots(stableDarkPoints,ST,1).attr("fill","#2E4780");
  [[bandLeftInner,bandLeftOuter],[bandRightInner,bandRightOuter]].forEach(b=>{
    const area=d3.area().y((d,i)=>y(volcanoLevels[i])).x0((d,i)=>x(b[0][i])).x1((d,i)=>x(b[1][i]));
    g.append("path").attr("d",area(volcanoLevels)).attr("fill",ST).attr("stroke",ST).attr("stroke-width",3).attr("stroke-linejoin","round");
  });
  g.append("line").attr("x1",L).attr("x2",R).attr("y1",y(1.3)).attr("y2",y(1.3)).attr("stroke","#b5b5b5").attr("stroke-width",2);
  [-1,1].forEach(v=>g.append("line").attr("x1",x(v)).attr("x2",x(v)).attr("y1",T).attr("y2",B).attr("stroke","#b5b5b5").attr("stroke-width",2));
  volcanoLegend.forEach((n,i)=>{
    const ly=[1163,1192,1218][i];
    g.append("circle").attr("cx",815).attr("cy",ly).attr("r",2.9).attr("fill",[UP,ST,DN][i]).attr("fill-opacity",.5);
    label(g,[841,851.5,851.5][i],ly+5,n,{size:17.6,anchor:"middle"});
  });
})();

// ---------- colour scales + bars ----------
const heatColor=d3.scaleLinear([-1.5,0,1.5],["#00A087","#F39B7F","#E64B35"]);
const mirColor=d3.scaleLinear([-1.5,.15,2],["#00A087","#F39B7F","#E64B35"]);
function colorBar(id,scale,ticks,x,w,yTop,yBot,tickTop,tickBot,size,axisCol){
  const dom=scale.domain(), lo=dom[0], hi=dom[dom.length-1];
  const grad=svg.append("defs").append("linearGradient").attr("id",id).attr("x1",0).attr("x2",0).attr("y1",1).attr("y2",0);
  const mid=dom[1];
  [lo,mid,hi].forEach(v=>grad.append("stop").attr("offset",(v-lo)/(hi-lo)).attr("stop-color",scale(v)));
  svg.append("rect").attr("x",x).attr("y",yTop).attr("width",w).attr("height",yBot-yTop).attr("fill",`url(#${id})`);
  const ya=d3.scaleLinear([lo,hi],[tickBot,tickTop]);
  const ax=svg.append("g").attr("transform",`translate(${x+w},0)`)
    .call(d3.axisRight(ya).tickValues(ticks).tickFormat(d3.format(".2f")).tickSize(3).tickPadding(4));
  ax.select(".domain").attr("stroke",axisCol).attr("stroke-width",1.3);
  ax.selectAll("text").attr("font-size",size).attr("font-weight","bold").attr("font-family","'Liberation Serif',serif").attr("fill","#000");
  ax.selectAll(".tick line").attr("stroke",axisCol).attr("stroke-width",1.2);
}

// ---------- tree walker ----------
function walkTree(node,counter,emit){
  if(!Array.isArray(node)){const p=counter.n++;return {pos:p,h:0};}
  const a=walkTree(node[1],counter,emit), b=walkTree(node[2],counter,emit), h=node[0];
  emit.stem(a.pos,a.h,h); emit.stem(b.pos,b.h,h); emit.bar(h,a.pos,b.pos);
  return {pos:(a.pos+b.pos)/2,h:h};
}

// ---------- draw D ----------
(function(){
  const g=svg.append("g");
  const cx=1324.5,cy=1200.6,rad=Math.PI/180;
  const ang=d3.scaleLinear([0,circularGenes.length],[51*rad,358*rad]);
  const ring=d3.scaleLinear([0,6],[59,237.6]);
  const arc=d3.arc();
  const gc=g.append("g").attr("transform",`translate(${cx},${cy})`);
  circularRings.forEach((vals,r)=>vals.forEach((v,i)=>{
    gc.append("path").attr("d",arc({innerRadius:ring(r),outerRadius:ring(r+1),startAngle:ang(i),endAngle:ang(i+1)}))
      .attr("fill",heatColor(v)).attr("stroke","#fff").attr("stroke-width",1.2);
  }));
  circularGenes.forEach((n,i)=>{
    const deg=ang(i+.5)/rad-.5;
    const t=gc.append("text").attr("font-size",18).attr("font-weight","bold").attr("dy",".35em").text(n);
    if(deg<180)t.attr("transform",`rotate(${deg-90}) translate(248,0)`);
    else t.attr("transform",`rotate(${deg-90}) translate(242,0) rotate(180)`).attr("text-anchor","end");
  });
  const rh=d3.scaleLinear([0,28],[59,31]);
  const pt=(r,a)=>[r*Math.sin(a),-r*Math.cos(a)];
  const treePaths=[];
  walkTree(circularTree,{n:0},{
    stem(p,h0,h1){const a=ang(p+.5),s=pt(rh(h0),a),e=pt(rh(h1),a);treePaths.push(`M${s}L${e}`);},
    bar(h,p0,p1){const r=rh(h),a0=ang(p0+.5),a1=ang(p1+.5),s=pt(r,a0),e=pt(r,a1);
      treePaths.push(`M${s}A${r},${r} 0 ${a1-a0>Math.PI?1:0} 1 ${e}`);}
  });
  gc.append("path").attr("d",treePaths.join("")).attr("fill","none").attr("stroke","#7f7f7f").attr("stroke-width",1);
  [[1332,976,"CdSO4-3"],[1331,1005.5,"CdSO4-2"],[1330,1035.4,"CdSO4-1"],[1329,1065.7,"Control-3"],[1328.5,1096,"Control-2"],[1327.5,1125.5,"Control-1"]]
   .forEach(l=>label(g,l[0],l[1]+6,l[2],{size:17.8}));
  colorBar("barD",heatColor,lncTicks,1653.6,19,1059,1205.6,1060,1205.6,17,"#555");
})();

// ---------- draw dot heatmaps ----------
function dotPanel(o){
  const g=svg.append("g");
  const x=d3.scalePoint(sampleNames,o.xRange);
  const y=d3.scalePoint(o.names,o.yRange);
  const tx=d3.scaleLinear([0,1],[o.leafX,o.rootX]);
  const yOf=p=>y(o.names[0])+p*(y(o.names[1])-y(o.names[0]));
  const d=[];
  walkTree(o.tree,{n:0},{
    stem(p,h0,h1){d.push(`M${tx(h0)},${yOf(p)}L${tx(h1)},${yOf(p)}`);},
    bar(h,a,b){d.push(`M${tx(h)},${yOf(a)}L${tx(h)},${yOf(b)}`);}
  });
  g.append("path").attr("d",d.join("")).attr("fill","none").attr("stroke","#8c8c8c").attr("stroke-width",1.5);
  o.values.forEach((row,r)=>row.forEach((v,c)=>{
    g.append("circle").attr("cx",x(sampleNames[c])).attr("cy",y(o.names[r])).attr("r",o.r).attr("fill",o.color(v));
  }));
  o.names.forEach(n=>label(g,o.labelX,y(n)+9+(o.descender&&/[g_]/.test(n)?3.5:0),n,{size:25.8}));
  sampleNames.forEach(s=>label(g,x(s)+18.5,o.colY,s,{size:26,anchor:"end",rotate:-45}));
}
dotPanel({names:lncNames,values:lncValues,tree:lncTree,color:heatColor,xRange:[104.5,308.3],yRange:[1656.6,2216.7],r:10.5,
  leafX:84,rootX:6,labelX:344,colY:2251,descender:true});
colorBar("barE",heatColor,lncTicks,691.5,28,1647.9,1864.9,1649,1864.9,25.2,"#111");
dotPanel({names:mirNames,values:mirValues,tree:mirTree,color:mirColor,xRange:[975.4,1180],yRange:[1646.4,2190],r:13.1,
  leafX:955.7,rootX:879.7,labelX:1215.6,colY:2229,descender:false});
colorBar("barF",mirColor,mirTicks,1548.7,29,1638,1854.7,1639,1854.7,25.2,"#111");
</script>
</body></html>
